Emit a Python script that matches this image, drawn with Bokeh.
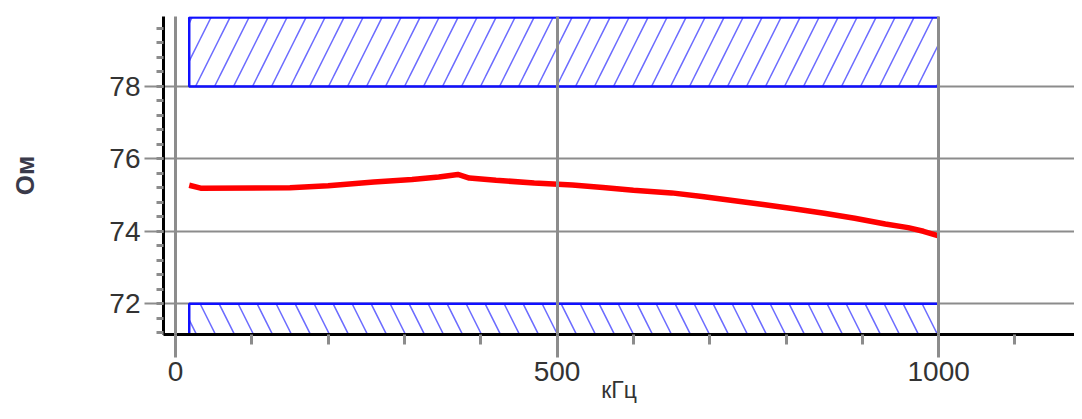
from bokeh.plotting import figure
from bokeh.models import FixedTicker, ColumnDataSource
from bokeh.embed import file_html
from bokeh.resources import INLINE
import numpy as np

# ---- data ----
freq_khz = [18, 33, 150, 200, 260, 310, 345, 370, 385, 420, 470, 520, 560, 600,
            650, 690, 730, 770, 810, 850, 890, 930, 960, 980, 1000]
impedance_ohm = [75.27, 75.19, 75.20, 75.26, 75.36, 75.43, 75.50, 75.57, 75.47, 75.41,
                 75.33, 75.28, 75.21, 75.13, 75.06, 74.96, 74.85, 74.74, 74.62, 74.50,
                 74.36, 74.20, 74.10, 74.00, 73.87]
band_start = [18]
band_end = [1000]
lower_limit = [72]
upper_limit = [78]
x_tick_values = [0, 500, 1000]
y_tick_values = [72, 74, 76, 78]
x_label = "кГц"
y_label = "Ом"

Y_MIN, Y_MAX = 71.15, 79.93
X_MIN, X_MAX = -15.7, 1178.0

FONT = "'Liberation Sans', Arial, sans-serif"

p = figure(width=1074, height=411, x_range=(X_MIN, X_MAX), y_range=(Y_MIN, Y_MAX),
           output_backend="svg", toolbar_location=None,
           min_border_left=163, min_border_right=0, min_border_top=16, min_border_bottom=77)
p.outline_line_color = None
p.background_fill_color = "white"
p.border_fill_color = "white"

# limit bands (hatched)
upper_src = ColumnDataSource(dict(left=band_start, right=band_end, bottom=upper_limit, top=[Y_MAX - 0.03]))
lower_src = ColumnDataSource(dict(left=band_start, right=band_end, bottom=[Y_MIN], top=lower_limit))
p.quad(left="left", right="right", bottom="bottom", top="top", source=upper_src,
       fill_alpha=0, line_color="#1010ff", line_width=2.5,
       hatch_pattern="/", hatch_color="#3a3aff", hatch_alpha=0.75, hatch_scale=38, hatch_weight=1.5)
p.quad(left="left", right="right", bottom="bottom", top="top", source=lower_src,
       fill_alpha=0, line_color="#1010ff", line_width=2.5,
       hatch_pattern="\\", hatch_color="#3a3aff", hatch_alpha=0.75, hatch_scale=38, hatch_weight=1.5)

# measured curve
p.line(freq_khz, impedance_ohm, line_color="#ff0000", line_width=5.5)

# x axis
p.xaxis.ticker = FixedTicker(ticks=x_tick_values, minor_ticks=list(np.arange(0, 1101, 100)))
p.xaxis.axis_line_color = "black"
p.xaxis.axis_line_width = 3
p.xaxis.major_tick_line_color = "#8c8c8c"
p.xaxis.major_tick_line_width = 3
p.xaxis.major_tick_out = 23
p.xaxis.major_tick_in = 0
p.xaxis.minor_tick_line_color = "#8c8c8c"
p.xaxis.minor_tick_line_width = 3
p.xaxis.minor_tick_out = 10
p.xaxis.minor_tick_in = 0
p.xaxis.major_label_text_font = FONT
p.xaxis.major_label_text_font_size = "28px"
p.xaxis.major_label_text_color = "#333333"
p.xaxis.major_label_standoff = 4
p.xaxis.axis_label = x_label
p.xaxis.axis_label_text_font = FONT
p.xaxis.axis_label_text_font_size = "23px"
p.xaxis.axis_label_text_font_style = "normal"
p.xaxis.axis_label_text_color = "#333333"
p.xaxis.axis_label_standoff = -7

# y axis
p.yaxis.ticker = FixedTicker(ticks=y_tick_values,
                             minor_ticks=[round(v, 1) for v in np.arange(71.2, 79.9, 0.4)])
p.yaxis.axis_line_color = "black"
p.yaxis.axis_line_width = 3
p.yaxis.major_tick_line_color = "#8c8c8c"
p.yaxis.major_tick_line_width = 2
p.yaxis.major_tick_out = 19
p.yaxis.major_tick_in = 0
p.yaxis.minor_tick_line_color = "#8c8c8c"
p.yaxis.minor_tick_line_width = 3
p.yaxis.minor_tick_out = 7
p.yaxis.minor_tick_in = 0
p.yaxis.major_label_text_font = FONT
p.yaxis.major_label_text_font_size = "28px"
p.yaxis.major_label_text_color = "#333333"
p.yaxis.major_label_standoff = 4
p.yaxis.axis_label = y_label
p.yaxis.axis_label_text_font = FONT
p.yaxis.axis_label_text_font_size = "26px"
p.yaxis.axis_label_text_font_style = "bold"
p.yaxis.axis_label_text_color = "#3a3a4a"
p.yaxis.axis_label_standoff = 66

# grids
p.ygrid.grid_line_color = "#8c8c8c"
p.ygrid.grid_line_width = 2
p.xgrid.grid_line_color = "#8c8c8c"
p.xgrid.grid_line_width = 3
p.xgrid.level = "overlay"

open("out.html", "w").write(file_html(p, INLINE))
